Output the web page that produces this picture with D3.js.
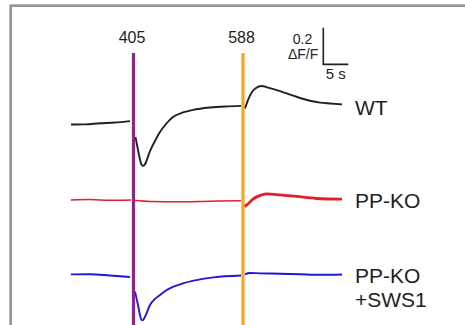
<!DOCTYPE html>
<html>
<head>
<meta charset="utf-8">
<script src="https://cdn.jsdelivr.net/npm/d3@7"></script>
<style>
  body { margin: 0; background: #fff; }
  svg text { font-family: "Liberation Sans", Arial, Helvetica, sans-serif; fill: #231f20; }
</style>
</head>
<body>
<div id="chart"></div>
<script>
// stimulus wavelengths (nm) and onset times (s)
var stimLabels = ["405", "588"];
var stimTimes = [12.5, 34.4];

var traceNames = ["WT", "PP-KO", "PP-KO\n+SWS1"];
// vertical offset of each trace (dF/F units)
var traceOffsets = [0, -0.415, -0.825];

// [t (s), dF/F], per trace: before 405, after 405, after 588
var wtPre = [[0, -0.003], [2.8, -0.002], [5.8, 0.004], [8.8, 0.008], [11.8, 0.016]];
var wtR1 = [[12.9, -0.071], [13.4, -0.142], [13.8, -0.195], [14.1, -0.222], [14.4, -0.229],
  [14.8, -0.219], [15.8, -0.148], [16.8, -0.093], [17.8, -0.044], [19.0, 0], [20.4, 0.038],
  [22.4, 0.063], [24.4, 0.077], [27.8, 0.09], [30.8, 0.096], [34.0, 0.099]];
var wtR2 = [[34.8, 0.085], [35.4, 0.131], [36.2, 0.175], [37.0, 0.197], [38.1, 0.208],
  [39.4, 0.199], [41.8, 0.18], [43.8, 0.161], [45.8, 0.142], [47.8, 0.127], [49.8, 0.117],
  [51.8, 0.112], [54.2, 0.107]];

var koPre = [[0, 0], [3.8, 0.002], [7.8, -0.002], [12.0, 0]];
var koR1 = [[12.8, -0.003], [15.8, -0.008], [21.8, -0.01], [27.8, -0.007], [34.0, -0.005]];
var koR2 = [[34.7, -0.036], [35.4, -0.022], [36.4, 0.005], [37.6, 0.022], [39.1, 0.033],
  [41.8, 0.028], [45.1, 0.019], [49.1, 0.008], [54.2, 0.004]];

var swPre = [[0, 0.003], [3.8, 0.004], [7.8, -0.003], [11.8, -0.011]];
var swR1 = [[12.8, -0.091], [13.4, -0.164], [13.8, -0.219], [14.1, -0.245], [14.4, -0.247],
  [14.8, -0.228], [15.8, -0.164], [16.8, -0.131], [17.8, -0.109], [19.0, -0.085], [20.5, -0.064],
  [22.4, -0.046], [24.5, -0.031], [28.5, -0.013], [34.0, -0.003]];
var swR2 = [[34.8, 0.004], [35.8, 0.011], [37.8, 0.009], [41.8, 0.007], [45.8, 0.004],
  [49.8, 0.001], [54.2, 0.003]];

var traces = [[wtPre, wtR1, wtR2], [koPre, koR1, koR2], [swPre, swR1, swR2]];
var colors = ["#231f20", "#e61e2b", "#2416d6"];
var stimColors = ["#95218f", "#f8a51c"];

var width = 465, height = 325;

var x = d3.scaleLinear().domain([0, 54.2]).range([71, 342]);
var y = d3.scaleLinear().domain([-1, 0.5]).range([124 + 183, 124 - 91.5]);

var svg = d3.select("#chart").append("svg")
    .attr("width", width)
    .attr("height", height);

// frame
svg.append("rect")
    .attr("x", 10.7).attr("y", 5.7)
    .attr("width", 500).attr("height", 400)
    .attr("fill", "none")
    .attr("stroke", "#959595")
    .attr("stroke-width", 2.7);

var line = d3.line()
    .x(function(d) { return x(d[0]); })
    .curve(d3.curveMonotoneX);

traces.forEach(function(segs, i) {
  var g = svg.append("g").attr("class", "trace");
  line.y(function(d) { return y(d[1] + traceOffsets[i]); });
  segs.forEach(function(seg, j) {
    var w = 1.9;
    if (i == 1) w = (j == 2) ? 2.8 : 1.5;
    g.append("path")
        .attr("d", line(seg))
        .attr("fill", "none")
        .attr("stroke", colors[i])
        .attr("stroke-width", w)
        .attr("stroke-linejoin", "round");
  });
});

// stimulus markers
var stim = svg.selectAll(".stim")
    .data(stimTimes)
    .enter().append("g")
    .attr("class", "stim");

stim.append("line")
    .attr("x1", function(d) { return x(d); })
    .attr("x2", function(d) { return x(d); })
    .attr("y1", 53)
    .attr("y2", height)
    .attr("stroke", function(d, i) { return stimColors[i]; })
    .attr("stroke-width", 3.2);

stim.append("text")
    .attr("x", function(d) { return x(d) - 1.5; })
    .attr("y", 43)
    .attr("text-anchor", "middle")
    .style("font-size", "16px")
    .text(function(d, i) { return stimLabels[i]; });

// trace labels
traceNames.forEach(function(name, i) {
  var t = svg.append("text")
      .attr("x", 355)
      .attr("y", y(traceOffsets[i]) - 9 + (i > 0 ? 17 : 0))
      .style("font-size", "21px");
  name.split("\n").forEach(function(s, k) {
    t.append("tspan").attr("x", 355).attr("dy", k ? 24.5 : 0).text(s);
  });
});

// scale bar: 5 s by 0.2 dF/F
var sbT = 50.46, sbV = 0.326;
var sb = svg.append("g").attr("class", "scalebar");
sb.append("path")
    .attr("d", "M" + x(sbT) + "," + y(sbV + 0.2) + "V" + y(sbV) + "H" + x(sbT + 5))
    .attr("fill", "none")
    .attr("stroke", "#231f20")
    .attr("stroke-width", 1.6);
sb.append("text")
    .attr("x", x(sbT) - 11).attr("y", 43.5)
    .attr("text-anchor", "end")
    .style("font-size", "14px")
    .text("0.2");
sb.append("text")
    .attr("x", x(sbT) - 5).attr("y", 58.5)
    .attr("text-anchor", "end")
    .style("font-size", "14px")
    .text("ΔF/F");
sb.append("text")
    .attr("x", x(sbT + 2.5)).attr("y", 79)
    .attr("text-anchor", "middle")
    .style("font-size", "15px")
    .text("5 s");
</script>
</body>
</html>
